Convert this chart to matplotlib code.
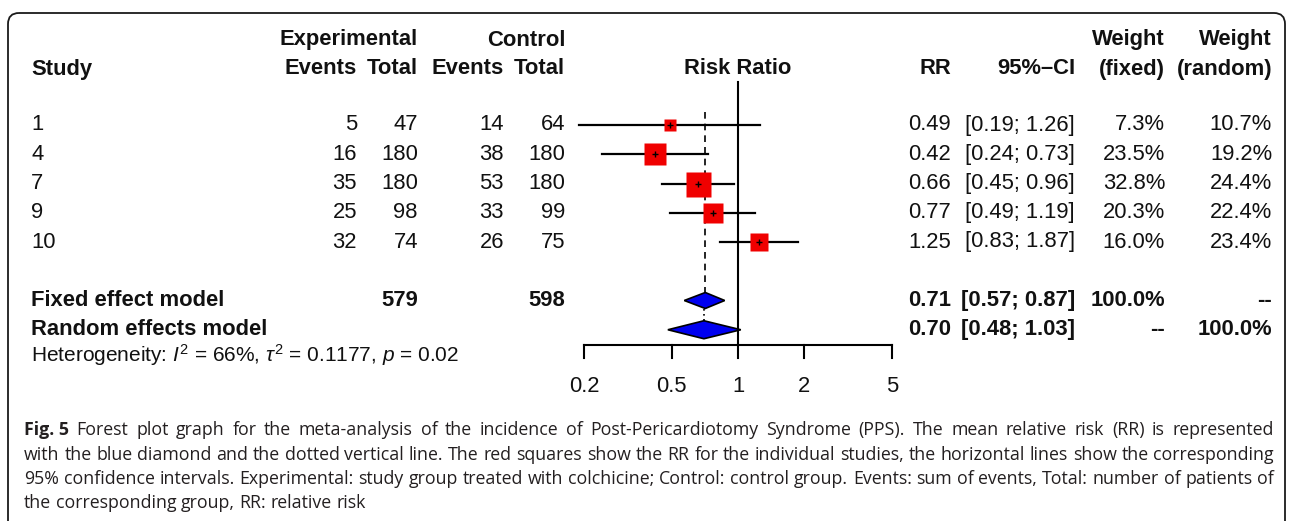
import numpy as np
import matplotlib.pyplot as plt
from matplotlib.patches import FancyBboxPatch, Polygon

# ---- data ----
studies = ["1", "4", "7", "9", "10"]
exp_events = [5, 16, 35, 25, 32]
exp_total = [47, 180, 180, 98, 74]
ctrl_events = [14, 38, 53, 33, 26]
ctrl_total = [64, 180, 180, 99, 75]
rr = [0.49, 0.42, 0.66, 0.77, 1.25]
ci_low = [0.19, 0.24, 0.45, 0.49, 0.83]
ci_high = [1.26, 0.73, 0.96, 1.19, 1.87]
w_fixed = [7.3, 23.5, 32.8, 20.3, 16.0]
w_random = [10.7, 19.2, 24.4, 22.4, 23.4]

model_names = ["Fixed effect model", "Random effects model"]
model_rr = [0.71, 0.70]
model_low = [0.57, 0.48]
model_high = [0.87, 1.03]
model_exp_total = ["579", ""]
model_ctrl_total = ["598", ""]
model_w_fixed = ["100.0%", "--"]
model_w_random = ["--", "100.0%"]

axis_ticks = [0.2, 0.5, 1, 2, 5]
axis_labels = ["0.2", "0.5", "1", "2", "5"]
heterogeneity = r"Heterogeneity: $I^2$ = 66%, $\tau^2$ = 0.1177, $p$ = 0.02"

caption_bold = "Fig. 5"
caption_lines = [
    "Forest plot graph for the meta-analysis of the incidence of Post-Pericardiotomy Syndrome (PPS). The mean relative risk (RR) is represented",
    "with the blue diamond and the dotted vertical line. The red squares show the RR for the individual studies, the horizontal lines show the corresponding",
    "95% confidence intervals. Experimental: study group treated with colchicine; Control: control group. Events: sum of events, Total: number of patients of",
    "the corresponding group, RR: relative risk",
]

# ---- layout (pixels) ----
W, H = 1293, 521
FONT = "Liberation Sans"
FS = 15.8
TXT = "#111111"

plt.rcParams["mathtext.fontset"] = "custom"
plt.rcParams["mathtext.rm"] = FONT
plt.rcParams["mathtext.it"] = FONT + ":italic"
plt.rcParams["mathtext.bf"] = FONT + ":bold"

fig = plt.figure(figsize=(W / 100, H / 100), dpi=100)
ax = fig.add_axes([0, 0, 1, 1])
ax.set_xlim(0, W)
ax.set_ylim(H, 0)
ax.axis("off")

# outer rounded frame (bottom edge runs off the picture)
frame = FancyBboxPatch((8, 13), 1277, 530, boxstyle="round,pad=0,rounding_size=11",
                       fill=False, edgecolor="#1a1a1a", linewidth=1.3)
ax.add_patch(frame)

y_head1, y_head2 = 40, 69
row0, dy = 125, 29.25
row_y = [row0 + i * dy for i in range(len(studies))]
model_y = [row_y[-1] + 2 * dy, row_y[-1] + 3 * dy]
het_y = model_y[1] + 25

x_study = 31
x_exp_ev, x_exp_tot, x_ctrl_ev, x_ctrl_tot = 357, 418, 504, 565
x_rr, x_ci, x_wf, x_wr = 951, 1075, 1165, 1272
px_one, px_decade = 738, 220


def put(x, y, s, ha="right", bold=False, size=FS):
    ax.text(x, y, s, ha=ha, va="center", fontsize=size, family=FONT,
            fontweight="bold" if bold else "normal", color=TXT)


# headers
put(x_exp_tot, y_head1, "Experimental", bold=True)
put(x_ctrl_tot, y_head1, "Control", bold=True)
put(x_wf, y_head1, "Weight", bold=True)
put(x_wr, y_head1, "Weight", bold=True)
put(x_study, y_head2, "Study", ha="left", bold=True)
put(x_exp_ev, y_head2, "Events", bold=True)
put(x_exp_tot, y_head2, "Total", bold=True)
put(x_ctrl_ev, y_head2, "Events", bold=True)
put(x_ctrl_tot, y_head2, "Total", bold=True)
put(px_one, y_head2, "Risk Ratio", ha="center", bold=True)
put(x_rr, y_head2, "RR", bold=True)
put(x_ci, y_head2, "95%\u2013CI", bold=True)
put(x_wf, y_head2, "(fixed)", bold=True)
put(x_wr, y_head2, "(random)", bold=True)

# study rows
for i, y in enumerate(row_y):
    put(x_study, y, studies[i], ha="left")
    put(x_exp_ev, y, str(exp_events[i]))
    put(x_exp_tot, y, str(exp_total[i]))
    put(x_ctrl_ev, y, str(ctrl_events[i]))
    put(x_ctrl_tot, y, str(ctrl_total[i]))
    put(x_rr, y, f"{rr[i]:.2f}")
    put(x_ci, y, f"[{ci_low[i]:.2f}; {ci_high[i]:.2f}]")
    put(x_wf, y, f"{w_fixed[i]:.1f}%")
    put(x_wr, y, f"{w_random[i]:.1f}%")

# pooled rows
for j, y in enumerate(model_y):
    put(x_study, y, model_names[j], ha="left", bold=True)
    put(x_exp_tot, y, model_exp_total[j], bold=True)
    put(x_ctrl_tot, y, model_ctrl_total[j], bold=True)
    put(x_rr, y, f"{model_rr[j]:.2f}", bold=True)
    put(x_ci, y, f"[{model_low[j]:.2f}; {model_high[j]:.2f}]", bold=True)
    put(x_wf, y, model_w_fixed[j], bold=True)
    put(x_wr, y, model_w_random[j], bold=True)

ax.text(x_study, het_y, heterogeneity, ha="left", va="center", fontsize=15.0,
        family=FONT, color=TXT)

# ---- forest panel: log x axis, pixel y ----
x0 = px_one + np.log10(axis_ticks[0]) * px_decade
x1 = px_one + np.log10(axis_ticks[-1]) * px_decade
fp = fig.add_axes([x0 / W, 0, (x1 - x0) / W, 1])
fp.set_xscale("log")
fp.set_xlim(axis_ticks[0], axis_ticks[-1])
fp.set_ylim(H, 0)
fp.axis("off")

axis_y = 345
fp.plot([1, 1], [82, axis_y], color="black", lw=1.5, clip_on=False)
fp.plot([model_rr[0]] * 2, [112, model_y[0] - 8], color="black", lw=1.2,
        ls=(0, (4, 3)), clip_on=False)
fp.plot([model_rr[1]] * 2, [model_y[0] + 8, model_y[1] - 9], color="black", lw=1.2,
        ls=(0, (1, 2)), clip_on=False)

side_max = 25
for i, y in enumerate(row_y):
    fp.plot([ci_low[i], ci_high[i]], [y, y], color="black", lw=1.6, clip_on=False)
    side = side_max * np.sqrt(w_fixed[i] / max(w_fixed))
    fp.plot(rr[i], y, marker="s", ms=side * 0.72, color="#f00000", mec="none",
            clip_on=False, zorder=3)
    fp.plot(rr[i], y, marker="+", ms=5, mew=1, color="black", clip_on=False, zorder=4)

half_h = [8, 9]
for j, y in enumerate(model_y):
    diamond = Polygon([(model_low[j], y), (model_rr[j], y - half_h[j]),
                       (model_high[j], y), (model_rr[j], y + half_h[j])],
                      closed=True, facecolor="#0000f0", edgecolor="black", lw=1.2,
                      clip_on=False, zorder=3)
    fp.add_patch(diamond)

fp.plot([axis_ticks[0], axis_ticks[-1]], [axis_y, axis_y], color="black", lw=1.5,
        clip_on=False)
for t, lab in zip(axis_ticks, axis_labels):
    fp.plot([t, t], [axis_y, axis_y + 13], color="black", lw=1.5, clip_on=False)
    fp.text(t, axis_y + 42, lab, ha="center", va="center", fontsize=FS, family=FONT,
            color=TXT)

# ---- caption: justified lines, size chosen so the widest line fits ----
cap_x, cap_y0, cap_dy = 24, 430, 24.5
cap_right = 1274
cap_font = "Open Sans"
cap_color = "#231f20"
renderer = fig.canvas.get_renderer()


def width_at(s, size, weight="normal"):
    t = ax.text(0, -100, s, fontsize=size, family=cap_font, fontweight=weight)
    w = t.get_window_extent(renderer).width
    t.remove()
    return w


natural = [width_at(caption_bold + " ", 10, "bold") + width_at(caption_lines[0], 10)]
natural += [width_at(line, 10) for line in caption_lines[1:]]
cap_fs = 10 * (cap_right - cap_x) / max(natural) * 0.995

space_nat = width_at("a a", cap_fs) - width_at("aa", cap_fs)
for k, line in enumerate(caption_lines):
    y = cap_y0 + k * cap_dy
    words = line.split(" ")
    if k == 0:
        words = [caption_bold] + words
    weights = ["bold" if (k == 0 and n == 0) else "normal" for n in range(len(words))]
    widths = [width_at(wd, cap_fs, wt) for wd, wt in zip(words, weights)]
    space = space_nat
    if k < len(caption_lines) - 1:
        space = (cap_right - cap_x - sum(widths)) / (len(words) - 1)
    xx = cap_x
    for wd, wt, wdt in zip(words, weights, widths):
        ax.text(xx, y, wd, ha="left", va="center", fontsize=cap_fs, family=cap_font,
                fontweight=wt, color=cap_color)
        xx += wdt + space

fig.savefig("out.png", dpi=100)
